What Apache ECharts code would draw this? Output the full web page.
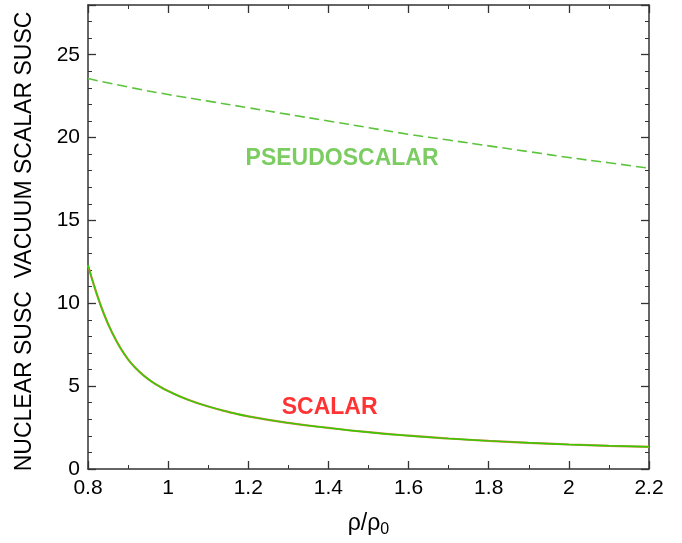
<!DOCTYPE html>
<html><head><meta charset="utf-8">
<script src="https://cdn.jsdelivr.net/npm/echarts@6/dist/echarts.min.js"></script>
<style>html,body{margin:0;padding:0;background:#fff}#c{width:682px;height:543px}</style>
</head><body><div id="c"></div>
<script>
const scalarX = [0.8,0.82,0.84,0.86,0.88,0.9,0.92,0.94,0.96,0.98,1.0,1.05,1.1,1.15,1.2,1.3,1.4,1.5,1.6,1.7,1.8,1.9,2.0,2.1,2.2];
const scalarY = [12.3,10.7,9.34,8.24,7.34,6.62,6.06,5.62,5.26,4.96,4.70,4.175,3.775,3.45,3.175,2.78,2.48,2.22,2.01,1.84,1.70,1.58,1.48,1.40,1.34];
const pseudoX = [0.8,0.9,1.0,1.1,1.2,1.3,1.4,1.5,1.6,1.7,1.8,1.9,2.0,2.1,2.2];
const pseudoY = [23.56,23.05,22.6,22.2,21.8,21.4,21.0,20.6,20.2,19.85,19.5,19.15,18.8,18.48,18.15];
const xTicks = [0.8,1,1.2,1.4,1.6,1.8,2,2.2];
const yTicks = [0,5,10,15,20,25];
const labels = [{text:'PSEUDOSCALAR', x:1.434, y:18.7, color:'#5abf3a'},{text:'SCALAR', x:1.403, y:3.72, color:'#ff0000'}];

const pair = (xs, ys) => xs.map((x,i)=>[x, ys[i]]);
const axisCommon = {
  axisLine:{show:true,onZero:false,lineStyle:{color:'#333',width:1.5}},
  axisTick:{show:true,inside:true,length:8,lineStyle:{color:'#333',width:1.3}},
  minorTick:{show:true,length:4,lineStyle:{color:'#333',width:1}},
  splitLine:{show:false}
};
const xBase = Object.assign({type:'value',min:0.8,max:2.2,interval:0.2}, axisCommon, {minorTick:Object.assign({},axisCommon.minorTick,{splitNumber:2})});
const yBase = Object.assign({type:'value',min:0,max:28,interval:5}, axisCommon, {minorTick:Object.assign({},axisCommon.minorTick,{splitNumber:5})});
const font = 'Liberation Sans, Arial, sans-serif';
const chart = echarts.init(document.getElementById('c'));
chart.setOption({
  backgroundColor:'#fff',
  animation:false,
  grid:{left:88,right:33,top:5,bottom:72,containLabel:false},
  xAxis:[
    Object.assign({}, xBase, {position:'bottom',
      axisLabel:{show:true,margin:9,fontSize:21,color:'#000',fontFamily:font,
        formatter:v=>{const t=xTicks.find(a=>Math.abs(a-v)<1e-6);return t===undefined?'':String(t);}},
      name:'{a|ρ/ρ}{b|0}',nameLocation:'middle',nameGap:40,
      nameTextStyle:{rich:{a:{fontSize:23,fontFamily:font,color:'#000'},b:{fontSize:16,fontFamily:font,color:'#000',padding:[13,0,0,0]}}}}),
    Object.assign({}, xBase, {position:'top',axisLabel:{show:false}})
  ],
  yAxis:[
    Object.assign({}, yBase, {position:'left',
      axisLabel:{show:true,margin:8,fontSize:21,color:'#000',fontFamily:font,
        formatter:v=>{const t=yTicks.find(a=>Math.abs(a-v)<1e-6);return t===undefined?'':String(t);}},
      name:'NUCLEAR SUSC  VACUUM SCALAR SUSC',nameLocation:'middle',nameGap:52,
      nameTextStyle:{fontSize:23,fontFamily:font,color:'#000',padding:[0,9,0,0]}}),
    Object.assign({}, yBase, {position:'right',axisLabel:{show:false}})
  ],
  series:[
    {type:'line',data:pair(pseudoX,pseudoY),smooth:true,showSymbol:false,
      lineStyle:{color:'#5cc33c',width:1.6,type:[10,5]}},
    {type:'line',data:pair(scalarX,scalarY),smooth:0.5,showSymbol:false,
      lineStyle:{color:'#d08848',width:2.2}},
    {type:'line',data:pair(scalarX,scalarY),smooth:0.5,showSymbol:false,
      lineStyle:{color:'#33cc00',width:1.4}},
    {type:'scatter',data:labels.map(l=>({value:[l.x,l.y],label:{show:true,formatter:l.text,color:l.color}})),
      symbolSize:0,silent:true,
      label:{show:true,position:'inside',fontSize:23,fontWeight:'bold',fontFamily:font}}
  ]
});
</script></body></html>
